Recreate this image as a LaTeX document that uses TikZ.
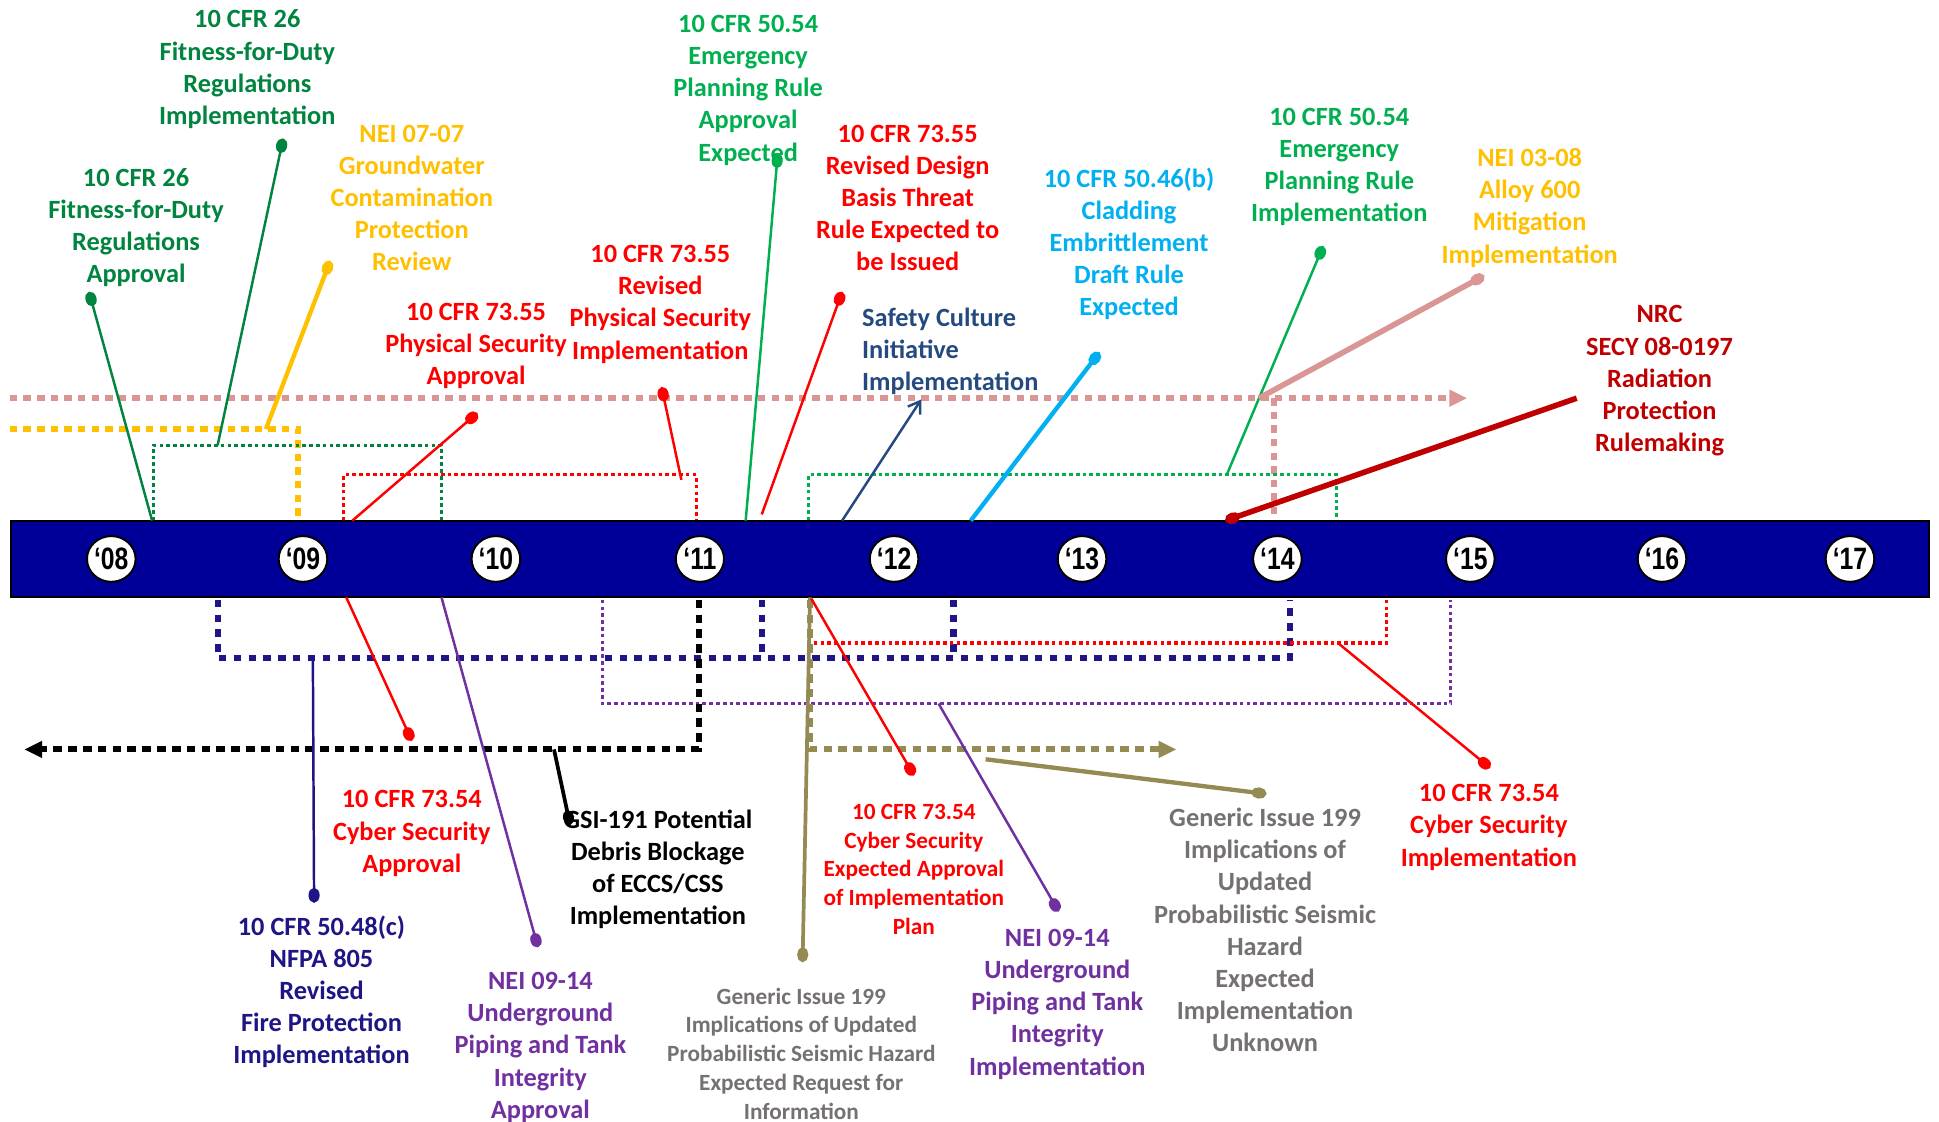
\documentclass[tikz,border=0pt]{standalone}
\usepackage{fontspec}
\setmainfont{Carlito}
\newfontfamily\yearfont[FakeStretch=0.8]{Liberation Sans}
\usetikzlibrary{arrows.meta,shapes.geometric}
\definecolor{barblue}{HTML}{000099}
\definecolor{dkgreen}{HTML}{00843F}
\definecolor{ltgreen}{HTML}{00B050}
\definecolor{gold}{HTML}{FFC000}
\definecolor{myred}{HTML}{FF0000}
\definecolor{dkred}{HTML}{C00000}
\definecolor{slate}{HTML}{254A7F}
\definecolor{skyblue}{HTML}{00B0F0}
\definecolor{pinkish}{HTML}{D99694}
\definecolor{indigo}{HTML}{1F1585}
\definecolor{purp}{HTML}{7030A0}
\definecolor{olive}{HTML}{948A54}
\definecolor{greytext}{HTML}{767171}
\tikzset{
  lbl/.style={align=center,inner sep=0pt,font=\fontsize{21.3}{26}\selectfont\bfseries},
  lblsm/.style={align=center,inner sep=0pt,font=\fontsize{18.8}{23.2}\selectfont\bfseries},
  yearlbl/.style={ellipse,draw=black,line width=1.6pt,fill=white,minimum width=39pt,minimum height=37pt,inner sep=0pt,font=\yearfont\bfseries\fontsize{25}{25}\selectfont},
  lead/.style={line width=2pt,-{Ellipse[length=12pt,width=9pt]}},
  bigdots/.style={line width=5pt,dash pattern=on 6pt off 5pt},
  smalldots/.style={line width=2.6pt,dash pattern=on 3pt off 2.5pt},
}
\begin{document}
\begin{tikzpicture}[x=1pt,y=-1pt]
\useasboundingbox (0,0) rectangle (1568,907);
\fill[white] (0,0) rectangle (1568,907);

% ---------- dotted spans above the bar ----------
\draw[bigdots,pinkish] (8,322) -- (1172,322);
\fill[pinkish] (1172,315) -- (1186,322) -- (1172,329) -- cycle;
\draw[bigdots,pinkish] (1030,322) -- (1030,421);
\draw[bigdots,gold] (8,347) -- (241,347) -- (241,421);
\draw[smalldots,dkgreen] (124,421) -- (124,360) -- (357,360) -- (357,421);
\draw[smalldots,myred] (278,421) -- (278,384) -- (563,384) -- (563,421);
\draw[smalldots,ltgreen] (654,421) -- (654,384) -- (1081,384) -- (1081,421);

% ---------- time bar ----------
\draw[fill=barblue,draw=black,line width=1.5pt] (9,421) rectangle (1560,483);
\node[yearlbl] (y08) at (90,452) {‘08};
\node[yearlbl] (y09) at (245,452) {‘09};
\node[yearlbl] (y10) at (401,452) {‘10};
\node[yearlbl] (y11) at (566,452) {‘11};
\node[yearlbl] (y12) at (723,452) {‘12};
\node[yearlbl] (y13) at (875,452) {‘13};
\node[yearlbl] (y14) at (1033,452) {‘14};
\node[yearlbl] (y15) at (1189,452) {‘15};
\node[yearlbl] (y16) at (1344,452) {‘16};
\node[yearlbl] (y17) at (1496,452) {‘17};

% ---------- dotted spans below the bar ----------
\draw[line width=5pt,dash pattern=on 6pt off 6pt,indigo] (176,485) -- (176,532) -- (1043,532) -- (1043,485);
\draw[line width=5pt,dash pattern=on 6pt off 6pt,indigo] (616,485) -- (616,532);
\draw[line width=5pt,dash pattern=on 6pt off 6pt,indigo] (771,485) -- (771,532);
\draw[smalldots,purp] (487,485) -- (487,569) -- (1173,569) -- (1173,485);
\draw[smalldots,myred] (658,520) -- (1121,520) -- (1121,485);
\draw[line width=5pt,dash pattern=on 7pt off 5pt,black] (565,485) -- (565,606) -- (34,606);
\fill[black] (34,599) -- (20,606) -- (34,613) -- cycle;
\draw[line width=5pt,dash pattern=on 7pt off 5pt,olive] (655,485) -- (655,606) -- (937,606);
\fill[olive] (937,599) -- (951,606) -- (937,613) -- cycle;

% ---------- leader anchor points ----------
\coordinate (bA) at (176,360);  \coordinate (dA) at (229,112);
\coordinate (bB) at (123,421);  \coordinate (dB) at (72,236);
\coordinate (bC) at (215,347);  \coordinate (dC) at (267,211);
\coordinate (bD) at (285,421);  \coordinate (dD) at (386,334);
\coordinate (bE) at (551,388);  \coordinate (dE) at (535,313);
\coordinate (bF) at (603,421);  \coordinate (dF) at (629,124);
\coordinate (bG) at (616,416);  \coordinate (dG) at (681,236);
\coordinate (bH) at (681,421);  \coordinate (dH) at (745,323);
\coordinate (bI) at (785,421);  \coordinate (dI) at (889,285);
\coordinate (bJ) at (992,384);  \coordinate (dJ) at (1070,199);
\coordinate (bK) at (1018,322); \coordinate (dK) at (1200,223);
\coordinate (bL) at (1275,322); \coordinate (dL) at (991,421);
\coordinate (bM) at (280,483);  \coordinate (dM) at (333,599);
\coordinate (bN) at (448,606);  \coordinate (dN) at (461,667);
\coordinate (bO) at (253,532);  \coordinate (dO) at (254,730);
\coordinate (bP) at (357,483);  \coordinate (dP) at (435,766);
\coordinate (bQ) at (655,483);  \coordinate (dQ) at (649,778);
\coordinate (bR) at (656,484);  \coordinate (dR) at (739,627);
\coordinate (bS) at (759,569);  \coordinate (dS) at (856,737);
\coordinate (bT) at (797,614);  \coordinate (dT) at (1024,642);
\coordinate (bU) at (1082,520); \coordinate (dU) at (1205,621);

% ---------- leaders ----------
\draw[lead,dkgreen] (bA) -- (dA);
\draw[lead,dkgreen] (bB) -- (dB);
\draw[lead,gold,line width=3.5pt] (bC) -- (dC);
\draw[lead,myred] (bD) -- (dD);
\draw[lead,myred] (bE) -- (dE);
\draw[lead,ltgreen] (bF) -- (dF);
\draw[lead,myred] (bG) -- (dG);
\draw[slate,line width=2pt,-{Straight Barb[length=9pt,width=12pt]}] (bH) -- (dH);
\draw[lead,skyblue,line width=3.5pt] (bI) -- (dI);
\draw[lead,ltgreen] (bJ) -- (dJ);
\draw[lead,pinkish,line width=4.5pt] (bK) -- (dK);
\draw[lead,dkred,line width=4.5pt] (bL) -- (dL);
\draw[lead,myred] (bM) -- (dM);
\draw[lead,black,line width=3pt] (bN) -- (dN);
\draw[lead,indigo] (bO) -- (dO);
\draw[lead,purp] (bP) -- (dP);
\draw[lead,olive,line width=3pt] (bQ) -- (dQ);
\draw[lead,myred] (bR) -- (dR);
\draw[lead,purp] (bS) -- (dS);
\draw[lead,olive,line width=3.5pt] (bT) -- (dT);
\draw[lead,myred] (bU) -- (dU);

% ---------- labels ----------
\node[lbl,text=dkgreen] (tA) at (200,56) {10 CFR 26\\Fitness-for-Duty\\Regulations\\Implementation};
\node[lbl,text=dkgreen] (tB) at (110,184) {10 CFR 26\\Fitness-for-Duty\\Regulations\\Approval};
\node[lbl,text=gold] (tC) at (333,160) {NEI 07-07\\Groundwater\\Contamination\\Protection\\Review};
\node[lbl,text=myred] (tD) at (385,280) {10 CFR 73.55\\Physical Security\\Approval};
\node[lbl,text=myred] (tE) at (534,246) {10 CFR 73.55\\Revised\\Physical Security\\Implementation};
\node[lbl,text=ltgreen] (tF) at (605,73) {10 CFR 50.54\\Emergency\\Planning Rule\\Approval\\Expected};
\node[lbl,text=myred] (tG) at (734,160) {10 CFR 73.55\\Revised Design\\Basis Threat\\Rule Expected to\\be Issued};
\node[lbl,text=slate,align=left,anchor=west] (tH) at (697,284) {Safety Culture\\Initiative\\Implementation};
\node[lbl,text=skyblue] (tI) at (913,197) {10 CFR 50.46(b)\\Cladding\\Embrittlement\\Draft Rule\\Expected};
\node[lbl,text=ltgreen] (tJ) at (1083,135) {10 CFR 50.54\\Emergency\\Planning Rule\\Implementation};
\node[lbl,text=gold] (tK) at (1237,168) {NEI 03-08\\Alloy 600\\Mitigation\\Implementation};
\node[lbl,text=dkred] (tL) at (1342,308) {NRC\\SECY 08-0197\\Radiation\\Protection\\Rulemaking};
\node[lbl,text=myred] (tM) at (333,674) {10 CFR 73.54\\Cyber Security\\Approval};
\node[lbl,text=black] (tN) at (532,703) {GSI-191 Potential\\Debris Blockage\\of ECCS/CSS\\Implementation};
\node[lbl,text=indigo] (tO) at (260,802) {10 CFR 50.48(c)\\NFPA 805\\Revised\\Fire Protection\\Implementation};
\node[lbl,text=purp] (tP) at (437,847) {NEI 09-14\\Underground\\Piping and Tank\\Integrity\\Approval};
\node[lblsm,text=greytext] (tQ) at (648,852) {Generic Issue 199\\Implications of Updated\\Probabilistic Seismic Hazard\\Expected Request for\\Information};
\node[lblsm,text=myred] (tR) at (739,703) {10 CFR 73.54\\Cyber Security\\Expected Approval\\of Implementation\\Plan};
\node[lbl,text=purp] (tS) at (855,812) {NEI 09-14\\Underground\\Piping and Tank\\Integrity\\Implementation};
\node[lbl,text=greytext] (tT) at (1023,752) {Generic Issue 199\\Implications of\\Updated\\Probabilistic Seismic\\Hazard\\Expected\\Implementation\\Unknown};
\node[lbl,text=myred] (tU) at (1204,669) {10 CFR 73.54\\Cyber Security\\Implementation};
\end{tikzpicture}
\end{document}
